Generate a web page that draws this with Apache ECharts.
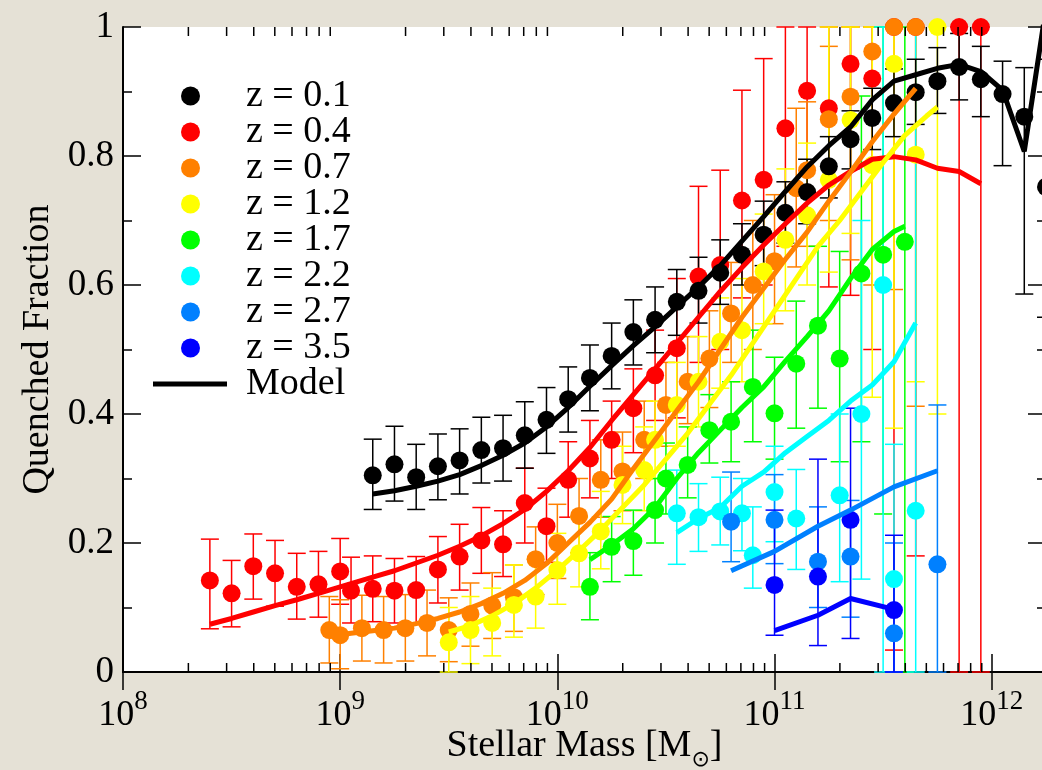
<!DOCTYPE html>
<html>
<head>
<meta charset="utf-8">
<title>Quenched Fraction vs Stellar Mass</title>
<script src="https://cdn.jsdelivr.net/npm/echarts@6/dist/echarts.min.js"></script>
<style>
  html, body { margin: 0; padding: 0; background: #e5e1d6; }
  #chart { width: 1042px; height: 770px; }
</style>
</head>
<body>
<div id="chart"></div>
<script>
// x values are log10(M / Msun); lo / hi are the ends of the error bars

// z = 0.1
const z01Mass = [9.15, 9.25, 9.35, 9.45, 9.55, 9.65, 9.75, 9.85, 9.95, 10.05, 10.15, 10.25, 10.35, 10.45, 10.55, 10.65, 10.75, 10.85, 10.95, 11.05, 11.15, 11.25, 11.35, 11.45, 11.55, 11.65, 11.75, 11.85, 11.95, 12.05, 12.15, 12.25]
const z01Frac = [0.305, 0.322, 0.302, 0.319, 0.328, 0.344, 0.347, 0.367, 0.391, 0.423, 0.456, 0.490, 0.527, 0.546, 0.574, 0.591, 0.619, 0.647, 0.678, 0.712, 0.744, 0.784, 0.826, 0.859, 0.882, 0.899, 0.916, 0.938, 0.919, 0.896, 0.861, 0.752]
const z01Lo = [0.252, 0.265, 0.252, 0.267, 0.276, 0.293, 0.296, 0.316, 0.339, 0.372, 0.405, 0.439, 0.476, 0.495, 0.522, 0.541, 0.570, 0.600, 0.630, 0.665, 0.695, 0.735, 0.780, 0.810, 0.830, 0.849, 0.866, 0.887, 0.861, 0.785, 0.586, 0.550]
const z01Hi = [0.361, 0.381, 0.353, 0.369, 0.377, 0.395, 0.398, 0.419, 0.441, 0.473, 0.507, 0.541, 0.577, 0.597, 0.624, 0.643, 0.670, 0.695, 0.730, 0.760, 0.795, 0.830, 0.870, 0.905, 0.935, 0.950, 0.968, 0.990, 0.970, 0.947, 0.937, 0.950]
const z01ModelMass = [9.15, 9.25, 9.35, 9.45, 9.55, 9.65, 9.75, 9.85, 9.95, 10.05, 10.15, 10.25, 10.35, 10.45, 10.55, 10.65, 10.75, 10.85, 10.95, 11.05, 11.15, 11.25, 11.35, 11.45, 11.55, 11.65, 11.75, 11.85, 11.95, 12.05, 12.15, 12.25]
const z01Model = [0.276, 0.281, 0.288, 0.296, 0.306, 0.320, 0.336, 0.355, 0.380, 0.410, 0.443, 0.475, 0.506, 0.535, 0.566, 0.597, 0.630, 0.668, 0.706, 0.745, 0.783, 0.816, 0.845, 0.887, 0.916, 0.926, 0.936, 0.942, 0.931, 0.902, 0.807, 1.03]

// z = 0.4
const z04Mass = [8.4, 8.5, 8.6, 8.7, 8.8, 8.9, 9.0, 9.05, 9.15, 9.25, 9.35, 9.45, 9.55, 9.65, 9.75, 9.85, 9.95, 10.05, 10.15, 10.25, 10.35, 10.45, 10.55, 10.65, 10.75, 10.85, 10.95, 11.05, 11.15, 11.25, 11.35, 11.45, 11.55, 11.65, 11.85, 11.95]
const z04Frac = [0.142, 0.122, 0.164, 0.153, 0.132, 0.136, 0.156, 0.126, 0.129, 0.126, 0.127, 0.159, 0.179, 0.204, 0.198, 0.262, 0.226, 0.298, 0.331, 0.360, 0.409, 0.460, 0.502, 0.613, 0.631, 0.731, 0.763, 0.843, 0.901, 0.874, 0.943, 0.920, 1.0, 1.0, 1.0, 1.0]
const z04Lo = [0.067, 0.070, 0.113, 0.102, 0.082, 0.085, 0.105, 0.076, 0.078, 0.076, 0.074, 0.107, 0.127, 0.153, 0.148, 0.200, 0.170, 0.240, 0.270, 0.300, 0.340, 0.390, 0.394, 0.480, 0.500, 0.580, 0.600, 0.660, 0.740, 0.597, 0.584, 0.500, 0.034, 0.180, 0.0, 0.0]
const z04Hi = [0.206, 0.173, 0.214, 0.204, 0.184, 0.187, 0.207, 0.178, 0.180, 0.176, 0.179, 0.210, 0.229, 0.255, 0.250, 0.316, 0.285, 0.357, 0.390, 0.420, 0.470, 0.530, 0.610, 0.753, 0.778, 0.902, 0.951, 1.0, 1.0, 1.0, 1.0, 1.0, 1.0, 1.0, 1.0, 1.0]
const z04ModelMass = [8.4, 8.5, 8.6, 8.7, 8.8, 8.9, 9.0, 9.15, 9.25, 9.35, 9.45, 9.55, 9.65, 9.75, 9.85, 9.95, 10.05, 10.15, 10.25, 10.35, 10.45, 10.55, 10.65, 10.75, 10.85, 10.95, 11.05, 11.15, 11.25, 11.35, 11.45, 11.55, 11.65, 11.75, 11.85, 11.95]
const z04Model = [0.074, 0.083, 0.093, 0.103, 0.112, 0.122, 0.132, 0.147, 0.157, 0.169, 0.181, 0.195, 0.211, 0.230, 0.252, 0.280, 0.312, 0.348, 0.390, 0.430, 0.470, 0.510, 0.550, 0.590, 0.627, 0.662, 0.695, 0.727, 0.755, 0.776, 0.795, 0.799, 0.794, 0.781, 0.776, 0.757]

// z = 0.7
const z07Mass = [8.95, 9.0, 9.1, 9.2, 9.3, 9.4, 9.5, 9.6, 9.7, 9.8, 9.9, 10.0, 10.1, 10.2, 10.3, 10.4, 10.5, 10.6, 10.7, 10.8, 10.9, 11.0, 11.1, 11.15, 11.25, 11.35, 11.45, 11.55, 11.65]
const z07Frac = [0.065, 0.057, 0.068, 0.065, 0.068, 0.076, 0.065, 0.090, 0.103, 0.116, 0.175, 0.200, 0.242, 0.298, 0.311, 0.360, 0.414, 0.450, 0.486, 0.556, 0.600, 0.637, 0.750, 0.778, 0.857, 0.892, 0.962, 1.0, 1.0]
const z07Lo = [0.014, 0.005, 0.017, 0.014, 0.017, 0.025, 0.016, 0.040, 0.052, 0.063, 0.120, 0.145, 0.185, 0.240, 0.250, 0.300, 0.350, 0.385, 0.410, 0.480, 0.500, 0.540, 0.628, 0.660, 0.700, 0.639, 0.600, 0.593, 0.412]
const z07Hi = [0.117, 0.112, 0.119, 0.117, 0.120, 0.127, 0.115, 0.138, 0.154, 0.166, 0.225, 0.260, 0.300, 0.360, 0.372, 0.420, 0.480, 0.520, 0.560, 0.635, 0.700, 0.740, 0.874, 0.884, 0.970, 1.0, 1.0, 1.0, 1.0]
const z07ModelMass = [8.95, 9.05, 9.15, 9.25, 9.35, 9.45, 9.55, 9.65, 9.75, 9.85, 9.95, 10.05, 10.15, 10.25, 10.35, 10.45, 10.55, 10.65, 10.75, 10.85, 10.95, 11.05, 11.15, 11.25, 11.35, 11.45, 11.55, 11.65]
const z07Model = [0.055, 0.060, 0.064, 0.068, 0.075, 0.083, 0.093, 0.106, 0.122, 0.142, 0.168, 0.200, 0.232, 0.268, 0.315, 0.360, 0.405, 0.450, 0.500, 0.550, 0.595, 0.640, 0.682, 0.730, 0.775, 0.822, 0.865, 0.905]

// z = 1.2
const z12Mass = [9.5, 9.6, 9.7, 9.8, 9.9, 10.0, 10.1, 10.2, 10.3, 10.4, 10.45, 10.55, 10.65, 10.75, 10.85, 10.95, 11.05, 11.15, 11.25, 11.35, 11.45, 11.55, 11.65, 11.75]
const z12Frac = [0.046, 0.065, 0.076, 0.104, 0.117, 0.158, 0.184, 0.218, 0.290, 0.313, 0.360, 0.414, 0.450, 0.512, 0.530, 0.621, 0.670, 0.708, 0.763, 0.856, 0.786, 0.943, 0.802, 1.0]
const z12Lo = [0.0, 0.013, 0.025, 0.054, 0.068, 0.105, 0.132, 0.160, 0.230, 0.250, 0.300, 0.350, 0.380, 0.440, 0.450, 0.540, 0.560, 0.600, 0.620, 0.680, 0.426, 0.378, 0.450, 0.400]
const z12Hi = [0.100, 0.117, 0.130, 0.166, 0.175, 0.215, 0.240, 0.280, 0.350, 0.380, 0.420, 0.480, 0.520, 0.580, 0.610, 0.710, 0.780, 0.820, 1.0, 1.0, 1.0, 1.0, 1.0, 1.0]
const z12ModelMass = [9.5, 9.6, 9.7, 9.8, 9.9, 10.0, 10.1, 10.2, 10.3, 10.4, 10.5, 10.6, 10.7, 10.8, 10.9, 11.0, 11.1, 11.2, 11.3, 11.4, 11.5, 11.6, 11.7, 11.75]
const z12Model = [0.062, 0.072, 0.087, 0.106, 0.130, 0.158, 0.188, 0.220, 0.255, 0.290, 0.330, 0.370, 0.415, 0.460, 0.510, 0.560, 0.610, 0.660, 0.700, 0.745, 0.790, 0.832, 0.862, 0.876]

// z = 1.7
const z17Mass = [10.15, 10.25, 10.35, 10.45, 10.5, 10.6, 10.7, 10.8, 10.9, 11.0, 11.1, 11.2, 11.3, 11.4, 11.5, 11.6]
const z17Frac = [0.132, 0.194, 0.203, 0.251, 0.300, 0.321, 0.375, 0.388, 0.442, 0.401, 0.478, 0.537, 0.486, 0.618, 0.647, 0.667]
const z17Lo = [0.081, 0.140, 0.150, 0.200, 0.245, 0.270, 0.324, 0.326, 0.357, 0.330, 0.378, 0.409, 0.326, 0.357, 0.245, 0.0]
const z17Hi = [0.185, 0.241, 0.251, 0.300, 0.355, 0.380, 0.430, 0.450, 0.530, 0.488, 0.575, 0.660, 0.652, 0.893, 1.0, 1.0]
const z17ModelMass = [10.15, 10.25, 10.35, 10.45, 10.55, 10.65, 10.75, 10.85, 10.95, 11.05, 11.15, 11.25, 11.35, 11.45, 11.55, 11.6]
const z17Model = [0.174, 0.197, 0.222, 0.255, 0.300, 0.340, 0.375, 0.410, 0.442, 0.482, 0.520, 0.560, 0.610, 0.655, 0.683, 0.691]

// z = 2.2
const z22Mass = [10.55, 10.65, 10.75, 10.85, 10.9, 11.0, 11.1, 11.3, 11.4, 11.5, 11.55, 11.65]
const z22Frac = [0.246, 0.240, 0.249, 0.246, 0.181, 0.279, 0.238, 0.274, 0.400, 0.600, 0.144, 0.250]
const z22Lo = [0.167, 0.187, 0.197, 0.188, 0.130, 0.202, 0.159, 0.140, 0.144, 0.0, 0.0, 0.0]
const z22Hi = [0.313, 0.292, 0.302, 0.300, 0.256, 0.350, 0.314, 0.400, 0.700, 1.0, 0.353, 1.0]
const z22ModelMass = [10.55, 10.65, 10.75, 10.85, 10.95, 11.05, 11.15, 11.25, 11.35, 11.45, 11.55, 11.65]
const z22Model = [0.216, 0.238, 0.255, 0.288, 0.310, 0.340, 0.365, 0.390, 0.420, 0.445, 0.481, 0.541]

// z = 2.7
const z27Mass = [10.8, 11.0, 11.2, 11.35, 11.55, 11.75]
const z27Frac = [0.233, 0.236, 0.171, 0.179, 0.060, 0.167]
const z27Lo = [0.171, 0.168, 0.100, 0.085, 0.0, 0.0]
const z27Hi = [0.310, 0.306, 0.256, 0.266, 0.200, 0.414]
const z27ModelMass = [10.8, 11.0, 11.2, 11.35, 11.55, 11.75]
const z27Model = [0.157, 0.187, 0.226, 0.251, 0.287, 0.312]

// z = 3.5
const z35Mass = [11.0, 11.2, 11.35, 11.55]
const z35Frac = [0.135, 0.148, 0.236, 0.096]
const z35Lo = [0.057, 0.041, 0.052, 0.0]
const z35Hi = [0.251, 0.330, 0.409, 0.212]
const z35ModelMass = [11.0, 11.2, 11.35, 11.55]
const z35Model = [0.064, 0.088, 0.114, 0.097]

const yTicks = [0, 0.2, 0.4, 0.6, 0.8, 1]
const decades = [8, 9, 10, 11, 12]

const FONT = 'Liberation Serif'

// drawing order: red first ... blue, black on top
const bins = [
  { name: 'z = 0.4', color: '#ff0000', mass: z04Mass, frac: z04Frac, lo: z04Lo, hi: z04Hi, mm: z04ModelMass, model: z04Model },
  { name: 'z = 0.7', color: '#ff8000', mass: z07Mass, frac: z07Frac, lo: z07Lo, hi: z07Hi, mm: z07ModelMass, model: z07Model },
  { name: 'z = 1.2', color: '#ffff00', mass: z12Mass, frac: z12Frac, lo: z12Lo, hi: z12Hi, mm: z12ModelMass, model: z12Model },
  { name: 'z = 1.7', color: '#00ff00', mass: z17Mass, frac: z17Frac, lo: z17Lo, hi: z17Hi, mm: z17ModelMass, model: z17Model },
  { name: 'z = 2.2', color: '#00ffff', mass: z22Mass, frac: z22Frac, lo: z22Lo, hi: z22Hi, mm: z22ModelMass, model: z22Model },
  { name: 'z = 2.7', color: '#0080ff', mass: z27Mass, frac: z27Frac, lo: z27Lo, hi: z27Hi, mm: z27ModelMass, model: z27Model },
  { name: 'z = 3.5', color: '#0000ff', mass: z35Mass, frac: z35Frac, lo: z35Lo, hi: z35Hi, mm: z35ModelMass, model: z35Model },
  { name: 'z = 0.1', color: '#000000', mass: z01Mass, frac: z01Frac, lo: z01Lo, hi: z01Hi, mm: z01ModelMass, model: z01Model },
]
const legendOrder = ['z = 0.1', 'z = 0.4', 'z = 0.7', 'z = 1.2', 'z = 1.7', 'z = 2.2', 'z = 2.7', 'z = 3.5']

// log minor ticks (2..9 x 10^n), drawn on bottom and top edges
const minorTicks = []
decades.forEach(n => {
  for (let k = 2; k <= 9; k++) {
    const v = n + Math.log10(k)
    if (v < 12.25) minorTicks.push([v])
  }
})

function errorBars(color) {
  return function (params, api) {
    const x = api.value(0)
    const a = api.coord([x, api.value(1)])
    const b = api.coord([x, api.value(2)])
    const st = { stroke: color, lineWidth: 1.5, fill: null }
    return {
      type: 'group',
      children: [
        { type: 'line', shape: { x1: a[0], y1: a[1], x2: b[0], y2: b[1] }, style: st },
        { type: 'line', shape: { x1: a[0] - 9, y1: a[1], x2: a[0] + 9, y2: a[1] }, style: st },
        { type: 'line', shape: { x1: b[0] - 9, y1: b[1], x2: b[0] + 9, y2: b[1] }, style: st },
      ],
    }
  }
}

function minorTickRender(params, api) {
  const v = api.value(0)
  const p0 = api.coord([v, 0])
  const p1 = api.coord([v, 1])
  const st = { stroke: '#000', lineWidth: 1.5 }
  return {
    type: 'group',
    children: [
      { type: 'line', shape: { x1: p0[0], y1: p0[1], x2: p0[0], y2: p0[1] - 9 }, style: st },
      { type: 'line', shape: { x1: p1[0], y1: p1[1], x2: p1[0], y2: p1[1] + 9 }, style: st },
    ],
  }
}

const series = []
bins.forEach(b => {
  series.push({
    name: b.name + ' err',
    type: 'custom',
    renderItem: errorBars(b.color),
    encode: { x: 0, y: [1, 2] },
    data: b.mass.map((m, i) => [m, b.lo[i], b.hi[i]]),
    z: 2,
    silent: true,
  })
})
bins.forEach(b => {
  series.push({
    name: b.name,
    type: 'scatter',
    symbol: 'circle',
    symbolSize: 18,
    clip: false,
    itemStyle: { color: b.color, opacity: 1 },
    data: b.mass.map((m, i) => [m, b.frac[i]]),
    z: 3,
  })
})
bins.forEach(b => {
  series.push({
    name: b.name === 'z = 0.1' ? 'Model' : 'Model ' + b.name,
    type: 'line',
    showSymbol: false,
    symbol: 'none',
    clip: true,
    lineStyle: { color: b.color, width: 5 },
    itemStyle: { color: b.color },
    data: b.mm.map((m, i) => [m, b.model[i]]),
    z: 4,
  })
})
series.push({
  name: 'minor ticks',
  type: 'custom',
  renderItem: minorTickRender,
  encode: { x: 0 },
  data: minorTicks,
  silent: true,
  z: 5,
})

const axisLine = { show: true, lineStyle: { color: '#000', width: 2 } }
const majorTick = { show: true, inside: true, length: 18, lineStyle: { color: '#000', width: 1.5 } }
const minorTickY = { show: true, splitNumber: 2, length: 9, lineStyle: { color: '#000', width: 1.5 } }

const chart = echarts.init(document.getElementById('chart'))
chart.setOption({
  backgroundColor: '#e5e1d6',
  animation: false,
  grid: {
    left: 123, right: -4, top: 27, bottom: 98,
    outerBoundsMode: 'none',
    show: true, backgroundColor: '#ffffff', borderWidth: 0,
  },
  legend: [
    {
      data: legendOrder,
      orient: 'vertical',
      left: 181,
      top: 77,
      padding: 0,
      itemWidth: 19,
      itemHeight: 19,
      itemGap: -2,
      icon: 'circle',
      selectedMode: false,
      textStyle: { fontFamily: FONT, fontSize: 38, color: '#000', lineHeight: 36, padding: [0, 0, 0, 41] },
    },
    {
      data: [{ name: 'Model', icon: 'rect' }],
      orient: 'vertical',
      left: 153,
      top: 365,
      padding: 0,
      itemWidth: 74,
      itemHeight: 5,
      selectedMode: false,
      itemStyle: { color: '#000' },
      textStyle: { fontFamily: FONT, fontSize: 38, color: '#000', lineHeight: 36, padding: [0, 0, 0, 14] },
    },
  ],
  xAxis: [
    {
      type: 'value',
      min: 8,
      max: 12.25,
      interval: 1,
      position: 'bottom',
      axisLine,
      axisTick: majorTick,
      splitLine: { show: false },
      axisLabel: {
        margin: 26,
        showMaxLabel: false,
        formatter: v => (decades.includes(v) ? '{b|10}{s|' + v + '}' : ''),
        rich: {
          b: { fontFamily: FONT, fontSize: 36, lineHeight: 36, color: '#000' },
          s: { fontFamily: FONT, fontSize: 27, lineHeight: 27, color: '#000', padding: [0, 0, 29, 0] },
        },
      },
      name: '{n|Stellar Mass [M}{sub|⊙}{n|]}',
      nameLocation: 'middle',
      nameGap: 55,
      nameMoveOverlap: false,
      nameTextStyle: {
        rich: {
          n: { fontFamily: FONT, fontSize: 38, lineHeight: 38, color: '#000' },
          sub: { fontFamily: 'DejaVu Sans', fontSize: 22, lineHeight: 22, color: '#000', padding: [29, 0, 0, 0] },
        },
      },
    },
    {
      type: 'value',
      min: 8,
      max: 12.25,
      interval: 1,
      position: 'top',
      axisLine,
      axisTick: majorTick,
      axisLabel: { show: false },
      splitLine: { show: false },
    },
  ],
  yAxis: [
    {
      type: 'value',
      min: 0,
      max: 1,
      interval: 0.2,
      position: 'left',
      axisLine,
      axisTick: majorTick,
      minorTick: minorTickY,
      splitLine: { show: false },
      axisLabel: {
        margin: 9,
        fontFamily: FONT,
        fontSize: 37,
        color: '#000',
        formatter: v => (yTicks.includes(v) ? String(v) : ''),
      },
      name: 'Quenched Fraction',
      nameLocation: 'middle',
      nameRotate: 90,
      nameGap: 66,
      nameMoveOverlap: false,
      nameTextStyle: { fontFamily: FONT, fontSize: 38, color: '#000' },
    },
    {
      type: 'value',
      min: 0,
      max: 1,
      interval: 0.2,
      position: 'right',
      axisLine,
      axisTick: majorTick,
      minorTick: minorTickY,
      axisLabel: { show: false },
      splitLine: { show: false },
    },
  ],
  series,
})
</script>
</body>
</html>
